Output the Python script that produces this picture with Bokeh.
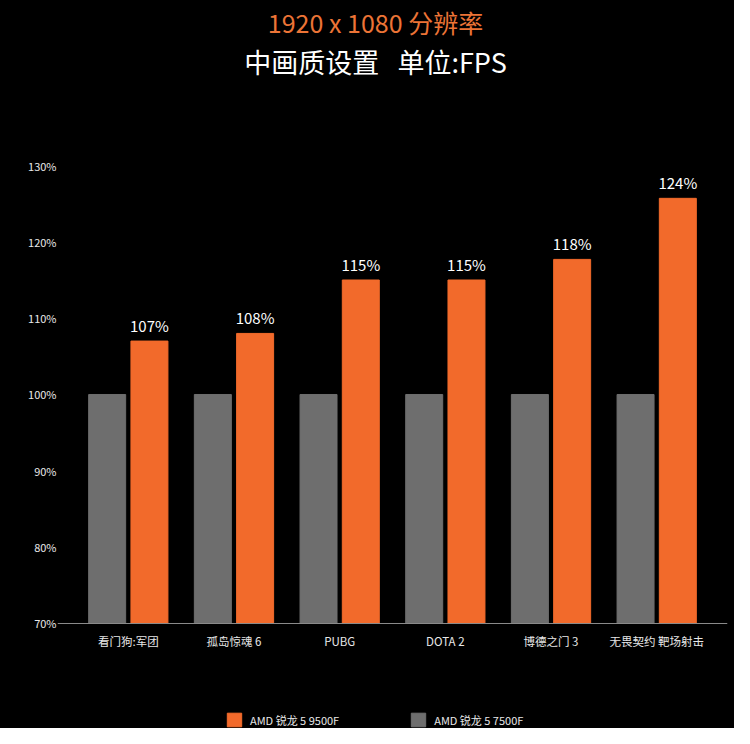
from bokeh.core.properties import value
from bokeh.embed import file_html
from bokeh.models import (ColumnDataSource, FactorRange, FixedTicker, Label,
                          Legend, LegendItem, Range1d)
from bokeh.plotting import figure
from bokeh.resources import INLINE
from bokeh.transform import dodge

FONT = "Noto Sans CJK SC"
ORANGE = "#F26A2B"
GRAY = "#6E6E6E"

games = ["看门狗:军团", "孤岛惊魂 6", "PUBG", "DOTA 2", "博德之门 3", "无畏契约 靶场射击"]
ryzen_9500f = [107.0, 108.0, 115.0, 115.0, 117.7, 125.7]
ryzen_7500f = [100, 100, 100, 100, 100, 100]
bar_labels = ["107%", "108%", "115%", "115%", "118%", "124%"]
y_ticks = [70, 80, 90, 100, 110, 120, 130]
y_tick_labels = {t: f"{t}%" for t in y_ticks}

src = ColumnDataSource(dict(
    game=games,
    new=ryzen_9500f,
    old=ryzen_7500f,
    label=bar_labels,
))

p = figure(
    x_range=FactorRange(factors=games, range_padding=0.17, range_padding_units="absolute"),
    y_range=Range1d(56.24, 151.62),
    width=734, height=728,
    title=None,
    toolbar_location=None,
    output_backend="svg",
    min_border_left=57, min_border_right=7,
    min_border_top=0, min_border_bottom=0,
)
# border left transparent over a black host, so svg draws no seam round the frame
p.border_fill_color = None
p.styles = {"background-color": "black"}
p.background_fill_color = "black"
p.outline_line_color = None
p.grid.grid_line_color = None

r_old = p.vbar(x=dodge("game", -0.2, range=p.x_range), top="old", bottom=70, width=0.35,
               source=src, color=GRAY)
r_new = p.vbar(x=dodge("game", 0.2, range=p.x_range), top="new", bottom=70, width=0.35,
               source=src, color=ORANGE)

p.text(x=dodge("game", 0.2, range=p.x_range), y="new", text="label", source=src,
       y_offset=-5, text_align="center", text_baseline="bottom",
       text_color="white", text_font=value(FONT), text_font_size="15px")

# axes
p.xaxis.fixed_location = 70
p.xaxis.axis_line_color = "#8A8A8A"
p.xaxis.axis_line_width = 1
p.xaxis.major_tick_line_color = None
p.xaxis.major_tick_out = 0
p.xaxis.major_tick_in = 0
p.xaxis.minor_tick_line_color = None
p.xaxis.major_label_standoff = 10
p.xaxis.major_label_text_color = "#E8E8E8"
p.xaxis.major_label_text_font = FONT
p.xaxis.major_label_text_font_size = "11.5px"

p.yaxis.ticker = FixedTicker(ticks=y_ticks)
p.yaxis.major_label_overrides = y_tick_labels
p.yaxis.axis_line_color = None
p.yaxis.major_tick_line_color = None
p.yaxis.major_tick_out = 0
p.yaxis.major_tick_in = 0
p.yaxis.minor_tick_line_color = None
p.yaxis.major_label_standoff = 1
p.yaxis.major_label_text_color = "#E8E8E8"
p.yaxis.major_label_text_font = FONT
p.yaxis.major_label_text_font_size = "11px"

# titles
p.add_layout(Label(x=318, y=707, x_units="screen", y_units="screen",
                   text="1920 x 1080 分辨率", text_align="center", text_baseline="middle",
                   text_color="#EC7436", text_font=FONT, text_font_size="25px"))
p.add_layout(Label(x=318, y=667, x_units="screen", y_units="screen",
                   text="中画质设置 \u00a0\u00a0单位:FPS", text_align="center", text_baseline="middle",
                   text_color="white", text_font=FONT, text_font_size="27px"))

legend = Legend(items=[
    LegendItem(label="AMD 锐龙 5 9500F", renderers=[r_new]),
    LegendItem(label="AMD 锐龙 5 7500F", renderers=[r_old]),
], location=(168, 0), orientation="horizontal")
legend.background_fill_alpha = 0
legend.border_line_color = None
legend.padding = 0
legend.margin = 0
legend.spacing = 70
legend.glyph_width = 18
legend.glyph_height = 17
legend.label_height = 17
legend.label_standoff = 7
legend.label_text_color = "#E8E8E8"
legend.label_text_font = FONT
legend.label_text_font_size = "11px"
p.add_layout(legend, "center")

open("out.html", "w").write(file_html(p, INLINE))
